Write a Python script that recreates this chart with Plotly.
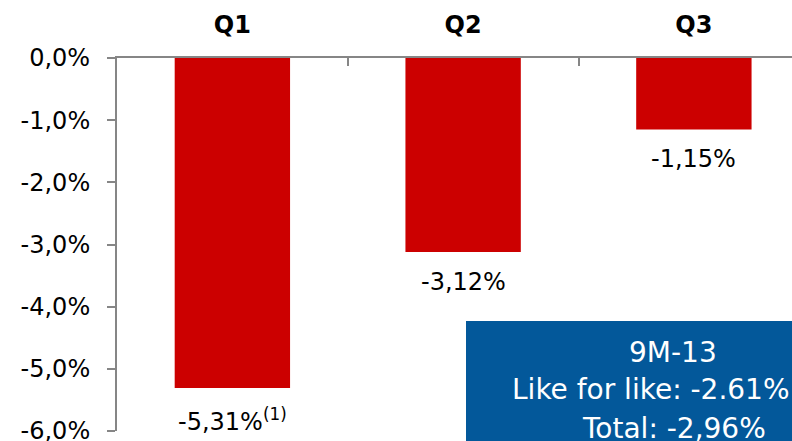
import plotly.graph_objects as go

# Quarterly change, %
quarters = ["Q1", "Q2", "Q3"]
changes = [-5.31, -3.12, -1.15]
notes = ["(1)", "", ""]

y_ticks = [0, -1, -2, -3, -4, -5, -6]
y_tick_labels = ["0,0%", "-1,0%", "-2,0%", "-3,0%", "-4,0%", "-5,0%", "-6,0%"]

summary_lines = ["9M-13", "Like for like: -2.61%", "Total: -2,96%"]

FONT = "DejaVu Sans"
AXIS_GREY = "#868686"
BAR_RED = "#CC0000"
BOX_BLUE = "#03589A"

W, H = 792, 441
M_L, M_T, M_B, M_R = 117, 58, 10, 0
plot_w = W - M_L - M_R
cat_px = 230.75  # pixel width of one category slot

fig = go.Figure()
fig.add_trace(go.Bar(
    x=quarters,
    y=changes,
    width=0.5,
    marker=dict(color=BAR_RED, line=dict(width=0)),
    hoverinfo="skip",
))


def fmt(v):
    return f"{v:.2f}".replace(".", ",") + "%"


# value labels under each bar
for q, v, n in zip(quarters, changes, notes):
    txt = fmt(v) + (f"<sup>{n}</sup>" if n else "")
    fig.add_annotation(
        x=q, y=v, xref="x", yref="y",
        text=txt, showarrow=False,
        xanchor="center", yanchor="top", yshift=-14,
        font=dict(family=FONT, size=24, color="#000000"),
    )


def px_x(p):
    return (p - M_L) / plot_w


def px_y(p):
    return 1 - (p - M_T) / (H - M_T - M_B)


# summary box (runs off the right and bottom edges)
fig.add_shape(
    type="rect", xref="paper", yref="paper",
    x0=px_x(466), x1=px_x(820), y0=px_y(460), y1=px_y(321),
    fillcolor=BOX_BLUE, line=dict(width=0), layer="above",
)
box_font = dict(family=FONT, size=28, color="#FFFFFF")
fig.add_annotation(x=px_x(673), y=px_y(352), xref="paper", yref="paper",
                   text=summary_lines[0], showarrow=False,
                   xanchor="center", yanchor="middle", font=box_font)
fig.add_annotation(x=px_x(510), y=px_y(389), xref="paper", yref="paper",
                   text=summary_lines[1], showarrow=False,
                   xanchor="left", yanchor="middle", font=box_font)
fig.add_annotation(x=px_x(674), y=px_y(428), xref="paper", yref="paper",
                   text=summary_lines[2], showarrow=False,
                   xanchor="center", yanchor="middle", font=box_font)

fig.update_layout(
    width=W, height=H,
    margin=dict(l=M_L, r=M_R, t=M_T, b=M_B, pad=0, autoexpand=False),
    paper_bgcolor="#FFFFFF",
    plot_bgcolor="#FFFFFF",
    showlegend=False,
    bargap=0.5,
    xaxis=dict(
        type="category",
        side="top",
        range=[-0.5, -0.5 + plot_w / cat_px],
        showline=True, linecolor=AXIS_GREY, linewidth=2,
        ticks="inside", tickson="boundaries", ticklen=8,
        tickcolor=AXIS_GREY, tickwidth=2,
        showgrid=False, zeroline=False, automargin=False,
        tickfont=dict(family=FONT, size=24, color="#000000", weight="bold"),
        ticklabelstandoff=13,
    ),
    yaxis=dict(
        range=[-6, 0],
        tickvals=y_ticks, ticktext=y_tick_labels,
        showline=True, linecolor=AXIS_GREY, linewidth=2,
        ticks="outside", ticklen=8, tickcolor=AXIS_GREY, tickwidth=2,
        showgrid=False, zeroline=False, automargin=False,
        tickfont=dict(family=FONT, size=24, color="#000000"),
        ticklabelstandoff=12,
        ticklabeloverflow="allow",
    ),
)

fig.write_html("out.html")
